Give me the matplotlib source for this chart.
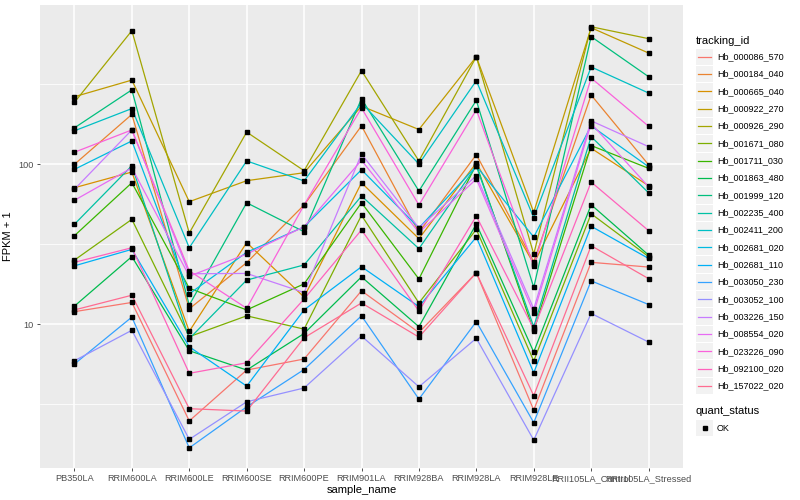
import numpy as np
import matplotlib
matplotlib.use("Agg")
import matplotlib.pyplot as plt
from matplotlib.patches import Rectangle
from matplotlib.ticker import FixedLocator, NullFormatter

plt.rcParams['font.family'] = ['Liberation Sans', 'DejaVu Sans']

samples = ["PB350LA", "RRIM600LA", "RRIM600LE", "RRIM600SE", "RRIM600PE",
           "RRIM901LA", "RRIM928BA", "RRIM928LA", "RRIM928LE",
           "RRII105LA_Control", "RRII105LA_Stressed"]

tracking_ids = ["Hb_000086_570", "Hb_000184_040", "Hb_000665_040", "Hb_000922_270",
                "Hb_000926_290", "Hb_001671_080", "Hb_001711_030", "Hb_001863_480",
                "Hb_001999_120", "Hb_002235_400", "Hb_002411_200", "Hb_002681_020",
                "Hb_002681_110", "Hb_003050_230", "Hb_003052_100", "Hb_003226_150",
                "Hb_008554_020", "Hb_023226_090", "Hb_092100_020", "Hb_157022_020"]

# FPKM + 1, one list per gene, in sample order
hb_000086_570 = [12.0, 13.7, 2.49, 5.18, 6.07, 16.2, 8.89, 21.0, 2.91, 24.4, 22.8]
hb_000184_040 = [100, 205, 12.5, 24.3, 55.7, 174, 37.5, 115, 24.6, 271, 99.4]
hb_000665_040 = [71.4, 89.5, 9.04, 32.4, 14.8, 76.7, 34.3, 102, 23.9, 126, 73.5]
hb_000922_270 = [264.5, 336, 58.4, 79, 88.6, 231, 165, 470, 50.1, 714, 496]
hb_000926_290 = [244, 684, 37.2, 159, 91.2, 385, 105, 470, 27.5, 724, 610]
hb_001671_080 = [25.2, 45.3, 8.37, 11.3, 9.33, 48, 13.6, 39.2, 5.9, 49.1, 26.5]
hb_001711_030 = [35.8, 76.7, 16.8, 12.3, 17.9, 57.5, 19.2, 100, 9.08, 131, 94.4]
hb_001863_480 = [13.0, 26.5, 6.84, 5.18, 8.76, 19.8, 9.66, 42.4, 6.71, 55.9, 27.1]
hb_001999_120 = [169, 292, 13.2, 57.5, 37.9, 257, 68.1, 251, 17.0, 628, 353]
hb_002235_400 = [42.2, 98, 8.13, 18.9, 23.5, 63.4, 29.7, 97.5, 9.66, 149, 66.4]
hb_002411_200 = [162, 223, 30.1, 105, 78.7, 242, 100.4, 333, 46.4, 406, 279]
hb_002681_020 = [93, 140, 15.5, 28.2, 40.7, 92.5, 40, 97.5, 35.1, 174, 96.6]
hb_002681_110 = [23.2, 29.4, 7.24, 4.11, 12.3, 22.9, 12.9, 35.1, 4.98, 41, 25.8]
hb_003050_230 = [5.65, 11.1, 1.69, 3.05, 5.22, 11.3, 3.41, 10.4, 2.43, 18.7, 13.3]
hb_003052_100 = [5.92, 9.18, 1.91, 3.28, 4.0, 8.45, 4.07, 8.18, 1.89, 11.7, 7.75]
hb_003226_150 = [69.8, 164, 20.7, 20.8, 15.8, 116, 40, 84.9, 12.5, 187, 129]
hb_008554_020 = [59.6, 95, 20.0, 27.5, 40.7, 106, 37.5, 80.9, 11.8, 180, 72.4]
hb_023226_090 = [119, 164, 21.6, 12.6, 55.7, 225, 55.7, 219, 23.2, 346, 173]
hb_092100_020 = [24.4, 30.1, 4.94, 5.75, 14.4, 38.9, 12.1, 47.5, 9.35, 77.5, 38.5]
hb_157022_020 = [12.3, 15.2, 2.97, 2.87, 8.24, 13.6, 8.32, 21.0, 3.58, 31, 19.3]

series = [hb_000086_570, hb_000184_040, hb_000665_040, hb_000922_270, hb_000926_290,
          hb_001671_080, hb_001711_030, hb_001863_480, hb_001999_120, hb_002235_400,
          hb_002411_200, hb_002681_020, hb_002681_110, hb_003050_230, hb_003052_100,
          hb_003226_150, hb_008554_020, hb_023226_090, hb_092100_020, hb_157022_020]

# ggplot default hue palette for 20 levels
colors = ["#F8766D", "#EA8331", "#D89000", "#C09B00", "#A3A500", "#7CAE00", "#39B600",
          "#00BB4E", "#00BF7D", "#00C1A3", "#00BFC4", "#00BAE0", "#00B0F6", "#35A2FF",
          "#9590FF", "#C77CFF", "#E76BF3", "#FA62DB", "#FF62BC", "#FF6C91"]

fig = plt.figure(figsize=(8, 5), dpi=100)
ax = fig.add_axes([40/800, 32/500, 643/800, 463/500])
ax.set_facecolor("#EBEBEB")

x = np.arange(len(samples))
for vals, col in zip(series, colors):
    ax.plot(x, vals, color=col, lw=0.9, zorder=3)
for vals in series:
    ax.plot(x, vals, ls="none", marker="s", ms=2.8, color="black", zorder=4)

ax.set_yscale("log")
ax.set_ylim(1.265, 990)
ax.set_xlim(-0.6, len(samples) - 0.4)

ax.yaxis.set_major_locator(FixedLocator([10, 100]))
ax.yaxis.set_minor_locator(FixedLocator([10**0.5, 10**1.5, 10**2.5]))
ax.yaxis.set_minor_formatter(NullFormatter())
ax.set_yticklabels(["10", "100"])
ax.set_xticks(x)
ax.set_xticklabels(samples)

ax.grid(which="major", color="white", lw=1.1)
ax.grid(which="minor", axis="y", color="white", lw=0.55)
ax.set_axisbelow(True)
for s in ax.spines.values():
    s.set_visible(False)
ax.tick_params(which="major", length=2.5, width=0.6, color="#333333",
               labelsize=6.6, labelcolor="#4D4D4D", pad=2)
ax.tick_params(which="minor", length=0)

ax.set_xlabel("sample_name", fontsize=8, labelpad=1)
ax.set_ylabel("FPKM + 1", fontsize=8, labelpad=4)

# legend drawn in pixel space
lg = fig.add_axes([0, 0, 1, 1], zorder=5)
lg.set_xlim(0, 800)
lg.set_ylim(500, 0)
lg.axis("off")
lg.patch.set_alpha(0)

lg.text(696, 40.5, "tracking_id", fontsize=8, va="center", ha="left")
y0, dy = 56.7, 17.33
for i, (name, col) in enumerate(zip(tracking_ids, colors)):
    yc = y0 + i * dy
    lg.add_patch(Rectangle((696, yc - dy/2 + 0.5), 17, dy - 1, facecolor="#F2F2F2",
                           edgecolor="none"))
    lg.plot([698, 711], [yc, yc], color=col, lw=0.9)
    lg.text(717, yc, name, fontsize=6.5, va="center", ha="left")

lg.text(696, 411.5, "quant_status", fontsize=8, va="center", ha="left")
lg.add_patch(Rectangle((696, 428.3 - dy/2 + 0.5), 17, dy - 1, facecolor="#F2F2F2",
                       edgecolor="none"))
lg.plot([704.5], [428.3], ls="none", marker="s", ms=2.8, color="black")
lg.text(717, 428.3, "OK", fontsize=6.5, va="center", ha="left")

fig.savefig("out.png", dpi=100)
